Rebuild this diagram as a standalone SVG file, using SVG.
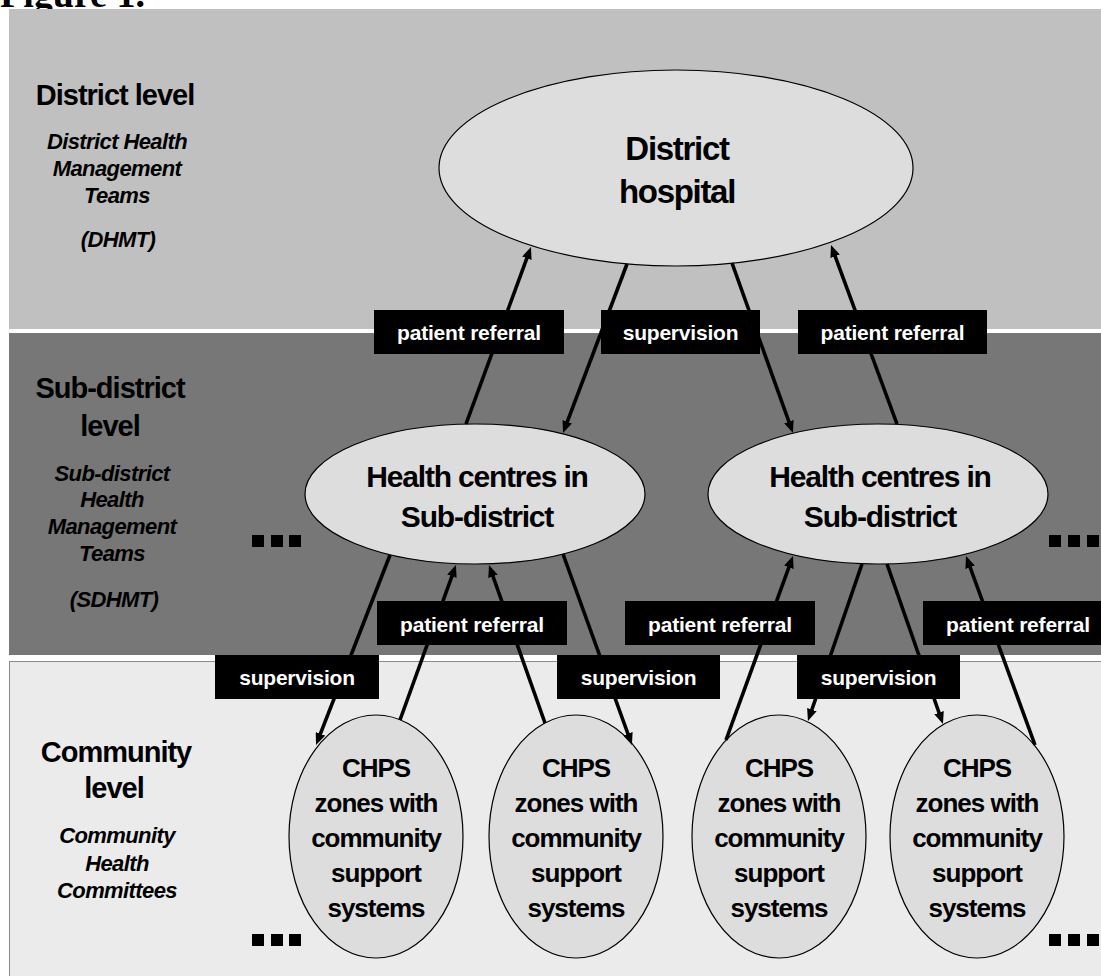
<svg xmlns="http://www.w3.org/2000/svg" width="1101" height="976" viewBox="0 0 1101 976">
<style>
text{font-family:"Liberation Sans",Arial,Helvetica,sans-serif;font-weight:bold;text-anchor:middle;fill:#000}
.lvl{font-size:29px;letter-spacing:-1px}
.sub{font-size:22px;font-style:italic;letter-spacing:-0.6px}
.lbl{font-size:21px;fill:#fff;letter-spacing:-0.2px}
.hc{font-size:30px;letter-spacing:-1.2px}
.dh{font-size:33px;letter-spacing:-1.3px}
.ch{font-size:26px;letter-spacing:-1px}
.node ellipse{fill:#dddddd;stroke:#000;stroke-width:1.2}
.conn line{stroke:#000;stroke-width:3.6}
.arr{marker-end:url(#ah)}
.box{fill:#000}
.dot{fill:#000}
</style>
<defs>
<marker id="ah" markerWidth="12" markerHeight="10" refX="3" refY="5" orient="auto" markerUnits="userSpaceOnUse">
<path d="M0,0 L12,5 L0,10 z" fill="#000"/>
</marker>
</defs>
<rect x="0" y="0" width="1101" height="976" fill="#fff"/>
<text x="0" y="7" style="font-family:'Liberation Serif','Times New Roman',serif;font-size:38px;text-anchor:start">Figure 1.</text>
<g id="bands">
<rect x="9" y="9" width="1092" height="320" fill="#c0c0c0"/>
<rect x="9" y="333" width="1092" height="322" fill="#777777"/>
<rect x="9.5" y="661.5" width="1092" height="320" fill="#ebebeb" stroke="#8a8a8a" stroke-width="1"/>
</g>
<g id="level-labels">
<text class="lvl" x="115" y="105">District level</text>
<text class="sub" x="117" y="149">District Health</text>
<text class="sub" x="117" y="176">Management</text>
<text class="sub" x="117" y="203">Teams</text>
<text class="sub" x="118" y="247">(DHMT)</text>
<text class="lvl" x="110" y="398">Sub-district</text>
<text class="lvl" x="110" y="436">level</text>
<text class="sub" x="112" y="481">Sub-district</text>
<text class="sub" x="112" y="507">Health</text>
<text class="sub" x="112" y="534">Management</text>
<text class="sub" x="112" y="561">Teams</text>
<text class="sub" x="114" y="607">(SDHMT)</text>
<text class="lvl" x="116" y="762">Community</text>
<text class="lvl" x="114" y="798">level</text>
<text class="sub" x="117" y="843">Community</text>
<text class="sub" x="117" y="871">Health</text>
<text class="sub" x="117" y="898">Committees</text>
</g>
<g id="ellipsis">
<rect class="dot" x="252" y="535" width="12" height="12"/>
<rect class="dot" x="271" y="535" width="12" height="12"/>
<rect class="dot" x="289" y="535" width="12" height="12"/>
<rect class="dot" x="1049" y="535" width="12" height="12"/>
<rect class="dot" x="1068" y="535" width="12" height="12"/>
<rect class="dot" x="1087" y="535" width="12" height="12"/>
<rect class="dot" x="252" y="934" width="12" height="12"/>
<rect class="dot" x="271" y="934" width="12" height="12"/>
<rect class="dot" x="289" y="934" width="12" height="12"/>
<rect class="dot" x="1049" y="934" width="12" height="12"/>
<rect class="dot" x="1068" y="934" width="12" height="12"/>
<rect class="dot" x="1087" y="934" width="12" height="12"/>
</g>
<g id="district-hospital" class="node">
<ellipse cx="676" cy="168" rx="237" ry="98"/>
<text class="dh" x="677" y="160">District</text>
<text class="dh" x="677" y="203">hospital</text>
</g>
<g id="hc-left" class="node">
<ellipse cx="475" cy="494" rx="170" ry="70"/>
<text class="hc" x="477" y="487">Health centres in</text>
<text class="hc" x="477" y="527">Sub-district</text>
</g>
<g id="hc-right" class="node">
<ellipse cx="878" cy="494" rx="170" ry="70"/>
<text class="hc" x="880" y="487">Health centres in</text>
<text class="hc" x="880" y="527">Sub-district</text>
</g>
<g id="chps-1" class="node">
<ellipse cx="376" cy="836.5" rx="87" ry="121.5"/>
<text class="ch" x="376" y="777">CHPS</text>
<text class="ch" x="376" y="812">zones with</text>
<text class="ch" x="376" y="847">community</text>
<text class="ch" x="376" y="882">support</text>
<text class="ch" x="376" y="917">systems</text>
</g>
<g id="chps-2" class="node">
<ellipse cx="576" cy="836.5" rx="87" ry="121.5"/>
<text class="ch" x="576" y="777">CHPS</text>
<text class="ch" x="576" y="812">zones with</text>
<text class="ch" x="576" y="847">community</text>
<text class="ch" x="576" y="882">support</text>
<text class="ch" x="576" y="917">systems</text>
</g>
<g id="chps-3" class="node">
<ellipse cx="779" cy="836.5" rx="87" ry="121.5"/>
<text class="ch" x="779" y="777">CHPS</text>
<text class="ch" x="779" y="812">zones with</text>
<text class="ch" x="779" y="847">community</text>
<text class="ch" x="779" y="882">support</text>
<text class="ch" x="779" y="917">systems</text>
</g>
<g id="chps-4" class="node">
<ellipse cx="977" cy="836.5" rx="87" ry="121.5"/>
<text class="ch" x="977" y="777">CHPS</text>
<text class="ch" x="977" y="812">zones with</text>
<text class="ch" x="977" y="847">community</text>
<text class="ch" x="977" y="882">support</text>
<text class="ch" x="977" y="917">systems</text>
</g>
<g id="connectors" class="conn">
<line class="arr" x1="466" y1="424" x2="527.9" y2="255.4"/>
<line class="arr" x1="627" y1="264" x2="566.2" y2="424.6"/>
<line class="arr" x1="732" y1="263" x2="789.9" y2="424.5"/>
<line class="arr" x1="897" y1="424" x2="834.1" y2="253.4"/>
<line class="arr" x1="390" y1="555" x2="319.3" y2="736.6"/>
<line class="arr" x1="400" y1="720" x2="452.9" y2="573.5"/>
<line class="arr" x1="545" y1="723" x2="492" y2="573.5"/>
<line class="arr" x1="563" y1="554" x2="628.9" y2="736.5"/>
<line class="arr" x1="726" y1="740" x2="789.9" y2="564.5"/>
<line class="arr" x1="862" y1="564" x2="810.9" y2="712.5"/>
<line class="arr" x1="887" y1="564" x2="940" y2="715.5"/>
<line class="arr" x1="1035" y1="745" x2="969.1" y2="564.5"/>
</g>
<g id="labels">
<rect class="box" x="374" y="310" width="190" height="44"/>
<text class="lbl" x="469" y="340">patient referral</text>
<rect class="box" x="601" y="310" width="159" height="44"/>
<text class="lbl" x="680.5" y="340">supervision</text>
<rect class="box" x="798" y="310" width="189" height="44"/>
<text class="lbl" x="892.5" y="340">patient referral</text>
<rect class="box" x="377" y="601" width="190" height="44"/>
<text class="lbl" x="472" y="632">patient referral</text>
<rect class="box" x="625" y="601" width="190" height="44"/>
<text class="lbl" x="720" y="632">patient referral</text>
<rect class="box" x="923" y="601" width="190" height="44"/>
<text class="lbl" x="1018" y="632">patient referral</text>
<rect class="box" x="215" y="655" width="164" height="44"/>
<text class="lbl" x="297" y="685">supervision</text>
<rect class="box" x="557" y="655" width="163" height="44"/>
<text class="lbl" x="638.5" y="685">supervision</text>
<rect class="box" x="797" y="655" width="163" height="44"/>
<text class="lbl" x="878.5" y="685">supervision</text>
</g>
</svg>
